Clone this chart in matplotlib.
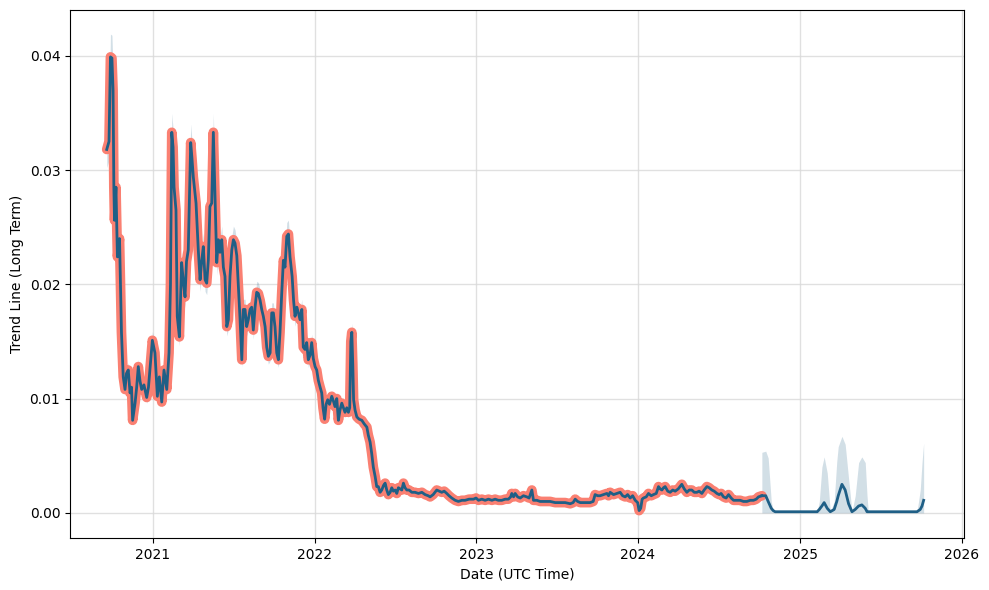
import matplotlib
matplotlib.use("Agg")
import matplotlib.pyplot as plt
import matplotlib.dates as mdates
import numpy as np
import pandas as pd

# ---- historical data (decimal year, value) ----
hist_year = [
    2020.714, 2020.728, 2020.737, 2020.746, 2020.753, 2020.758, 2020.762, 2020.771, 2020.780, 2020.793,
    2020.805, 2020.816, 2020.827, 2020.836, 2020.847, 2020.858, 2020.867, 2020.874, 2020.889, 2020.899,
    2020.909, 2020.920, 2020.930, 2020.944, 2020.961, 2020.972, 2020.981, 2020.996, 2021.012, 2021.027,
    2021.039, 2021.054, 2021.068, 2021.085, 2021.099, 2021.108, 2021.116, 2021.124, 2021.130, 2021.142,
    2021.150, 2021.163, 2021.177, 2021.189, 2021.198, 2021.207, 2021.218, 2021.226, 2021.233, 2021.241,
    2021.249, 2021.266, 2021.280, 2021.291, 2021.300, 2021.311, 2021.322, 2021.332, 2021.342, 2021.352,
    2021.363, 2021.373, 2021.383, 2021.394, 2021.404, 2021.414, 2021.425, 2021.435, 2021.445, 2021.456,
    2021.466, 2021.476, 2021.487, 2021.497, 2021.507, 2021.518, 2021.528, 2021.538, 2021.549, 2021.558,
    2021.569, 2021.579, 2021.589, 2021.600, 2021.610, 2021.620, 2021.631, 2021.641, 2021.651, 2021.662,
    2021.672, 2021.682, 2021.693, 2021.703, 2021.713, 2021.724, 2021.734, 2021.744, 2021.754, 2021.765,
    2021.775, 2021.785, 2021.795, 2021.806, 2021.816, 2021.827, 2021.837, 2021.847, 2021.860, 2021.869,
    2021.878, 2021.889, 2021.899, 2021.909, 2021.920, 2021.929, 2021.940, 2021.950, 2021.960, 2021.971,
    2021.981, 2021.991, 2022.002, 2022.012, 2022.022, 2022.033, 2022.043, 2022.051, 2022.061, 2022.070,
    2022.080, 2022.091, 2022.105, 2022.115, 2022.125, 2022.136, 2022.146, 2022.156, 2022.167, 2022.177,
    2022.187, 2022.198, 2022.208, 2022.216, 2022.223, 2022.229, 2022.235, 2022.240, 2022.249, 2022.260,
    2022.274, 2022.291, 2022.305, 2022.322, 2022.331, 2022.342, 2022.352, 2022.362, 2022.373, 2022.383,
    2022.393, 2022.404, 2022.414, 2022.425, 2022.435, 2022.445, 2022.455, 2022.466, 2022.476, 2022.486,
    2022.497, 2022.507, 2022.517, 2022.527, 2022.538, 2022.548, 2022.558, 2022.569, 2022.583, 2022.600,
    2022.620, 2022.641, 2022.662, 2022.682, 2022.701, 2022.713, 2022.732, 2022.754, 2022.769, 2022.785,
    2022.800, 2022.816, 2022.830, 2022.847, 2022.868, 2022.888, 2022.909, 2022.929, 2022.954, 2022.981,
    2022.997, 2023.012, 2023.033, 2023.053, 2023.074, 2023.095, 2023.115, 2023.135, 2023.156, 2023.177,
    2023.197, 2023.211, 2023.218, 2023.229, 2023.239, 2023.254, 2023.270, 2023.290, 2023.311, 2023.325,
    2023.342, 2023.352, 2023.373, 2023.393, 2023.424, 2023.455, 2023.486, 2023.517, 2023.548, 2023.579,
    2023.597, 2023.610, 2023.625, 2023.641, 2023.672, 2023.702, 2023.721, 2023.733, 2023.749, 2023.764,
    2023.785, 2023.806, 2023.816, 2023.826, 2023.847, 2023.868, 2023.888, 2023.903, 2023.919, 2023.934,
    2023.950, 2023.965, 2023.981, 2023.996, 2024.005, 2024.015, 2024.024, 2024.032, 2024.049, 2024.063,
    2024.080, 2024.094, 2024.111, 2024.125, 2024.135, 2024.146, 2024.156, 2024.166, 2024.182, 2024.197,
    2024.213, 2024.228, 2024.247, 2024.269, 2024.284, 2024.300, 2024.315, 2024.331, 2024.346, 2024.362,
    2024.376, 2024.393, 2024.407, 2024.424, 2024.438, 2024.455, 2024.469, 2024.486, 2024.500, 2024.512,
    2024.527, 2024.543, 2024.558, 2024.574, 2024.589, 2024.610, 2024.630, 2024.650, 2024.671, 2024.692,
    2024.712, 2024.729, 2024.743, 2024.764,
]
hist_value = [
    0.0318, 0.0325, 0.0399, 0.0398, 0.0370, 0.0285, 0.0256, 0.0285, 0.0224, 0.0240,
    0.0158, 0.0119, 0.0108, 0.0122, 0.0125, 0.0105, 0.0110, 0.0081, 0.0096, 0.0110,
    0.0128, 0.0115, 0.0108, 0.0112, 0.0101, 0.0110, 0.0125, 0.0151, 0.0140, 0.0102,
    0.0119, 0.0097, 0.0125, 0.0108, 0.0140, 0.0200, 0.0333, 0.0320, 0.0285, 0.0265,
    0.0172, 0.0154, 0.0219, 0.0200, 0.0189, 0.0220, 0.0230, 0.0280, 0.0324, 0.0310,
    0.0294, 0.0271, 0.0230, 0.0204, 0.0219, 0.0233, 0.0204, 0.0201, 0.0221, 0.0268,
    0.0271, 0.0333, 0.0280, 0.0219, 0.0239, 0.0228, 0.0239, 0.0215, 0.0207, 0.0163,
    0.0169, 0.0207, 0.0230, 0.0239, 0.0236, 0.0225, 0.0198, 0.0170, 0.0134, 0.0178,
    0.0178, 0.0163, 0.0169, 0.0178, 0.0180, 0.0160, 0.0180, 0.0193, 0.0192, 0.0186,
    0.0178, 0.0172, 0.0163, 0.0145, 0.0137, 0.0140, 0.0175, 0.0175, 0.0163, 0.0140,
    0.0134, 0.0158, 0.0190, 0.0221, 0.0215, 0.0242, 0.0244, 0.0224, 0.0207, 0.0186,
    0.0172, 0.0180, 0.0175, 0.0169, 0.0178, 0.0145, 0.0143, 0.0149, 0.0134, 0.0138,
    0.0149, 0.0135, 0.0128, 0.0125, 0.0116, 0.0110, 0.0105, 0.0092, 0.0082, 0.0095,
    0.0099, 0.0095, 0.0102, 0.0098, 0.0093, 0.0100, 0.0081, 0.0090, 0.0096, 0.0092,
    0.0088, 0.0092, 0.0088, 0.0092, 0.0150, 0.0158, 0.0130, 0.0099, 0.0090, 0.0084,
    0.0082, 0.0081, 0.0078, 0.0075, 0.0068, 0.0062, 0.0052, 0.0040, 0.0032, 0.0023,
    0.0023, 0.0018, 0.0020, 0.0024, 0.0026, 0.0020, 0.0016, 0.0018, 0.0022, 0.0019,
    0.0020, 0.0017, 0.0022, 0.0021, 0.0020, 0.0026, 0.0022, 0.0020, 0.0020, 0.0018,
    0.0018, 0.0017, 0.0018, 0.0016, 0.0015, 0.0014, 0.0016, 0.0020, 0.0019, 0.0018,
    0.0019, 0.0017, 0.0015, 0.0013, 0.0011, 0.0010, 0.0011, 0.0011, 0.0012, 0.0012,
    0.0013, 0.0011, 0.0012, 0.0011, 0.0012, 0.0011, 0.0012, 0.0011, 0.0011, 0.0012,
    0.0012, 0.0014, 0.0017, 0.0014, 0.0017, 0.0014, 0.0013, 0.0015, 0.0014, 0.0013,
    0.0020, 0.0011, 0.0011, 0.0010, 0.0010, 0.0010, 0.0009, 0.0009, 0.0009, 0.0008,
    0.0009, 0.0012, 0.0010, 0.0009, 0.0009, 0.0009, 0.0010, 0.0016, 0.0015, 0.0015,
    0.0016, 0.0017, 0.0015, 0.0018, 0.0016, 0.0017, 0.0018, 0.0015, 0.0014, 0.0016,
    0.0013, 0.0015, 0.0011, 0.0009, 0.0002, 0.0004, 0.0012, 0.0013, 0.0014, 0.0017,
    0.0015, 0.0016, 0.0017, 0.0023, 0.0021, 0.0020, 0.0022, 0.0023, 0.0019, 0.0018,
    0.0020, 0.0019, 0.0021, 0.0025, 0.0021, 0.0018, 0.0020, 0.0020, 0.0018, 0.0018,
    0.0019, 0.0017, 0.0020, 0.0023, 0.0022, 0.0020, 0.0019, 0.0017, 0.0016, 0.0017,
    0.0014, 0.0013, 0.0016, 0.0013, 0.0011, 0.0011, 0.0011, 0.0010, 0.0010, 0.0011,
    0.0011, 0.0012, 0.0014, 0.0015,
]
hist_band_rel = 0.05  # relative width of the uncertainty band over the history

# ---- forecast (decimal year, trend, lower, upper) ----
fc_year = [
    2024.764, 2024.788, 2024.803, 2024.822, 2024.834, 2024.846, 2025.106, 2025.119, 2025.135, 2025.149,
    2025.168, 2025.187, 2025.211, 2025.227, 2025.236, 2025.259, 2025.279, 2025.300, 2025.321, 2025.341,
    2025.362, 2025.382, 2025.403, 2025.414, 2025.422, 2025.723, 2025.743, 2025.754, 2025.764,
]
fc_trend = [
    0.0015, 0.0015, 0.0010, 0.0004, 0.0002, 0.0001, 0.0001, 0.0003, 0.0006, 0.0009,
    0.0004, 0.0001, 0.0003, 0.0010, 0.0015, 0.0025, 0.0020, 0.0008, 0.0001, 0.0003,
    0.0006, 0.0007, 0.0004, 0.0001, 0.0001, 0.0001, 0.0003, 0.0006, 0.0011,
]
fc_upper = [
    0.0053, 0.0054, 0.0048, 0.0010, 0.0002, 0.0001, 0.0001, 0.0010, 0.0040, 0.0049,
    0.0035, 0.0001, 0.0010, 0.0045, 0.0058, 0.0067, 0.0060, 0.0030, 0.0001, 0.0015,
    0.0044, 0.0049, 0.0044, 0.0015, 0.0001, 0.0001, 0.0020, 0.0044, 0.0061,
]
fc_lower = [0.0] * len(fc_year)

x_ticks = [2021, 2022, 2023, 2024, 2025, 2026]
y_ticks = [0.00, 0.01, 0.02, 0.03, 0.04]


def to_dates(years):
    y = np.asarray(years, dtype=float)
    return pd.Timestamp("2021-01-01") + pd.to_timedelta((y - 2021.0) * 365.25, unit="D")


hd = to_dates(hist_year)
hv = np.asarray(hist_value)
fd = to_dates(fc_year)

BLUE = "#1f5f86"
SALMON = "#fa8072"

fig = plt.figure(figsize=(9.89, 5.90), dpi=100)
ax = fig.add_axes([0.0708, 0.0881, 0.9040, 0.8949])

ax.fill_between(hd, hv * (1 - hist_band_rel), hv * (1 + hist_band_rel), color=BLUE, alpha=0.2, lw=0)
ax.fill_between(fd, fc_lower, fc_upper, color=BLUE, alpha=0.2, lw=0)
ax.plot(hd, hv, color=SALMON, lw=7.0, solid_joinstyle="round", solid_capstyle="round")
ax.plot(hd, hv, color=BLUE, lw=2.0)
ax.plot(fd, fc_trend, color=BLUE, lw=2.0)

ax.set_xlim(to_dates([2020.487])[0], to_dates([2026.014])[0])
ax.set_ylim(-0.0022, 0.0440)
ax.set_xticks([pd.Timestamp(f"{y}-01-01") for y in x_ticks])
ax.xaxis.set_major_formatter(mdates.DateFormatter("%Y"))
ax.set_yticks(y_ticks)
ax.set_yticklabels([f"{v:.2f}" for v in y_ticks])
ax.grid(True, color="#d9d9d9", lw=1.0, alpha=0.8)
ax.set_axisbelow(True)
ax.set_xlabel("Date (UTC Time)")
ax.set_ylabel("Trend Line (Long Term)")

fig.savefig("out.png", dpi=100)
